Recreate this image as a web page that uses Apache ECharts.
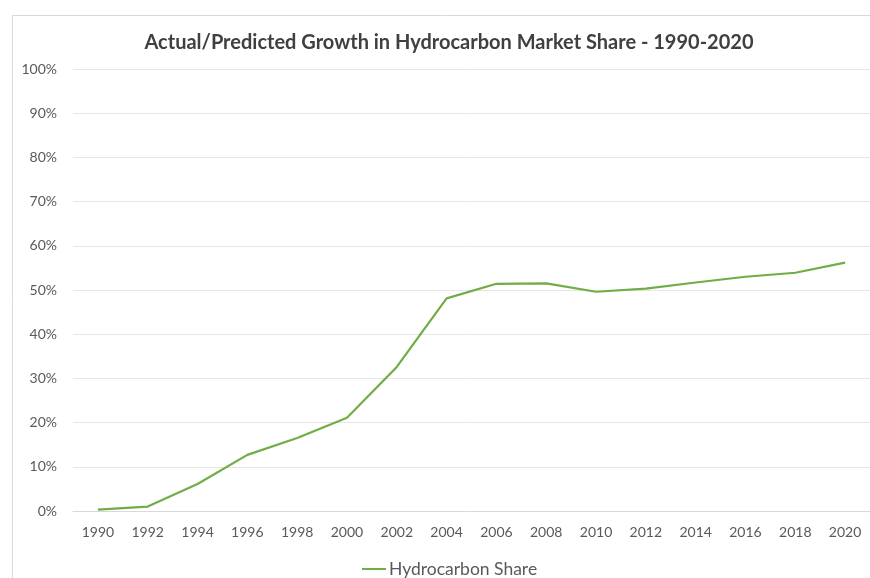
<!DOCTYPE html>
<html>
<head>
<meta charset="utf-8">
<script src="https://cdn.jsdelivr.net/npm/echarts@6/dist/echarts.min.js"></script>
<style>
  html, body { margin: 0; padding: 0; background: #fff; }
  #main { width: 870px; height: 578px; }
</style>
</head>
<body>
<div id="main"></div>
<script>
// years along the x axis
const years = ['1990', '1992', '1994', '1996', '1998', '2000', '2002', '2004',
  '2006', '2008', '2010', '2012', '2014', '2016', '2018', '2020']
// hydrocarbon share, percent
const hydrocarbonShare = [0.3, 1.0, 6.1, 12.7, 16.5, 21.1, 32.6, 48.1,
  51.4, 51.5, 49.6, 50.3, 51.7, 53.0, 53.9, 56.2]

const chart = echarts.init(document.getElementById('main'))
const font = 'Lato, "Open Sans", sans-serif'

chart.setOption({
  animation: false,
  backgroundColor: '#fff',
  textStyle: { fontFamily: font },
  graphic: [{
    type: 'rect',
    shape: { x: 12.5, y: 15.5, width: 900, height: 620 },
    style: { fill: 'none', stroke: '#d9d9d9', lineWidth: 1 },
    silent: true,
    z: -1
  }],
  title: {
    text: 'Actual/Predicted Growth in Hydrocarbon Market Share - 1990-2020',
    left: 444,
    textAlign: 'center',
    top: 28,
    textStyle: { fontFamily: font, fontSize: 20, fontWeight: 'bold', color: '#404040' }
  },
  legend: {
    data: ['Hydrocarbon Share'],
    left: 357,
    top: 555,
    itemWidth: 24,
    itemHeight: 2,
    itemGap: 4,
    icon: 'rect',
    textStyle: { fontFamily: font, fontSize: 17.5, color: '#595959', padding: [0, 0, 0, -2] }
  },
  grid: { left: 73, right: -3, top: 69, bottom: 67 },
  xAxis: {
    type: 'category',
    data: years,
    boundaryGap: true,
    axisLine: { lineStyle: { color: '#d9d9d9' } },
    axisTick: { show: false },
    axisLabel: { color: '#595959', fontSize: 14, margin: 14, fontFamily: font }
  },
  yAxis: {
    type: 'value',
    min: 0,
    max: 100,
    interval: 10,
    axisLine: { show: false },
    axisTick: { show: false },
    axisLabel: { color: '#595959', fontSize: 14, margin: 16, formatter: '{value}%', fontFamily: font },
    splitLine: { lineStyle: { color: '#e6e6e6' } }
  },
  series: [{
    name: 'Hydrocarbon Share',
    type: 'line',
    data: hydrocarbonShare,
    symbol: 'none',
    lineStyle: { color: '#70ad47', width: 2.2 },
    itemStyle: { color: '#70ad47' }
  }]
})
</script>
</body>
</html>
